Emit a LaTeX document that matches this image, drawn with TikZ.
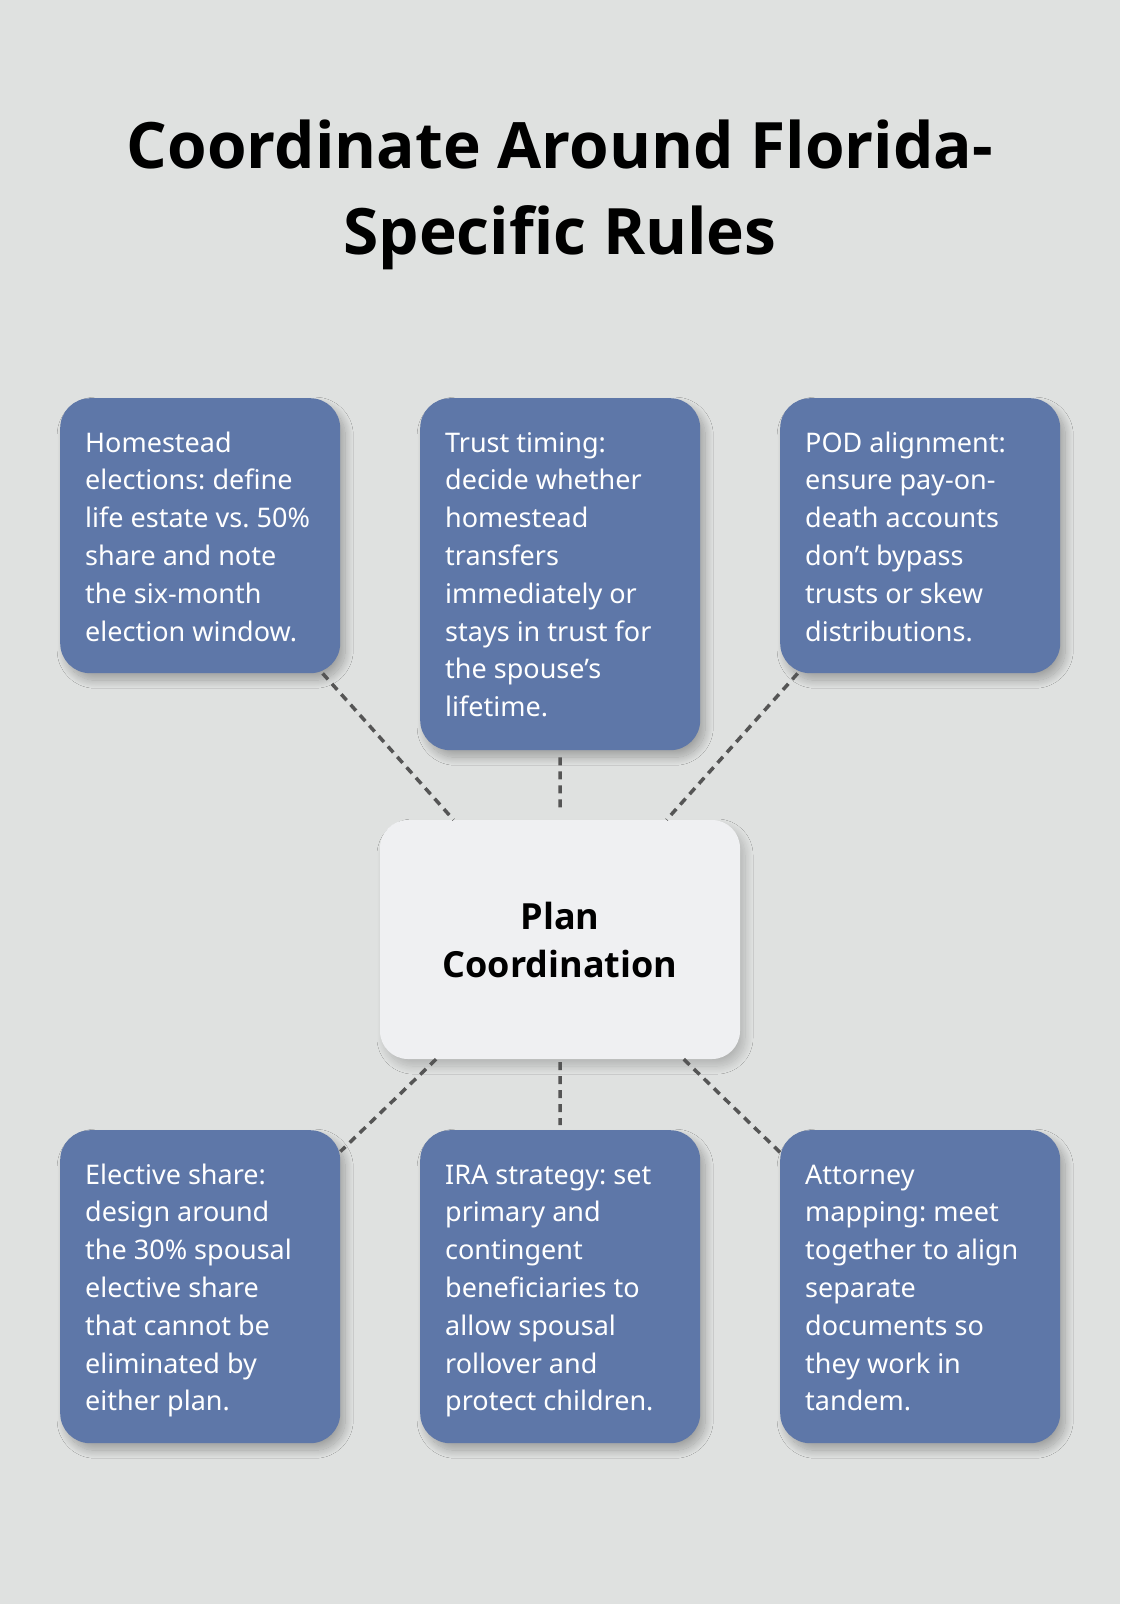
\documentclass[tikz,border=0pt]{standalone}
\usepackage{fontspec}
\setmainfont{Noto Sans}
\newfontfamily\headfont{Open Sans}
\usetikzlibrary{shadows.blur}
\definecolor{bgcol}{HTML}{DFE1E0}
\definecolor{boxblue}{HTML}{5E77A8}
\definecolor{ctrfill}{HTML}{EFF0F2}
\definecolor{dashcol}{HTML}{555555}
\tikzset{
  infobox/.style={rectangle, rounded corners=30pt, fill=boxblue, text=white,
    inner xsep=25pt, inner ysep=27.5pt, anchor=north west,
    font=\fontsize{27}{37.8}\selectfont,
    blur shadow={shadow blur steps=20, shadow xshift=5pt, shadow yshift=-7pt, shadow opacity=28, shadow blur radius=8pt}},
  ctrbox/.style={rectangle, rounded corners=28pt, fill=ctrfill, minimum width=360pt, minimum height=239pt,
    align=center, font=\headfont\bfseries\fontsize{36}{48}\selectfont,
    blur shadow={shadow blur steps=20, shadow xshift=5pt, shadow yshift=-7pt, shadow opacity=20, shadow blur radius=8pt}},
  conn/.style={draw=dashcol, line width=3.5pt, dash pattern=on 8pt off 6pt},
  titletext/.style={align=center, inner sep=0pt, anchor=north, font=\headfont\bfseries\fontsize{64}{86}\selectfont}
}
\newcommand{\boxtext}[2]{\parbox[t][#1][t]{230pt}{\raggedright\frenchspacing\strut #2}}
\begin{document}
\begin{tikzpicture}[x=1pt,y=-1pt]
\fill[bgcol] (0,0) rectangle (1120,1604);
\useasboundingbox (0,0) rectangle (1120,1604);

\node[titletext] (title) at (560,120) {Coordinate Around Florida-\\Specific Rules};

\node[infobox] (b1) at (60,398) {\boxtext{220pt}{Homestead\\ elections: define\\ life estate vs. 50\%\\ share and note\\ the six-month\\ election window.}};
\node[infobox] (b2) at (420,398) {\boxtext{297pt}{Trust timing:\\ decide whether\\ homestead\\ transfers\\ immediately or\\ stays in trust for\\ the spouse\char"0027 s\\ lifetime.}};
\node[infobox] (b3) at (780,398) {\boxtext{220pt}{POD alignment:\\ ensure pay-on-\\ death accounts\\ don’t bypass\\ trusts or skew\\ distributions.}};

\node[ctrbox] (ctr) at (560,939.5) {Plan\\Coordination};

\node[infobox] (b4) at (60,1130) {\boxtext{258pt}{Elective share:\\ design around\\ the 30\% spousal\\ elective share\\ that cannot be\\ eliminated by\\ either plan.}};
\node[infobox] (b5) at (420,1130) {\boxtext{258pt}{IRA strategy: set\\ primary and\\ contingent\\ beneficiaries to\\ allow spousal\\ rollover and\\ protect children.}};
\node[infobox] (b6) at (780,1130) {\boxtext{258pt}{Attorney\\ mapping: meet\\ together to align\\ separate\\ documents so\\ they work in\\ tandem.}};

\draw[conn] (b1) -- (ctr);
\draw[conn, shorten <=7pt, shorten >=7pt] (b2) -- (ctr);
\draw[conn] (b3) -- (ctr);
\draw[conn] (ctr) -- (b4);
\draw[conn, shorten <=3pt, shorten >=5pt] (ctr) -- (b5);
\draw[conn] (ctr) -- (b6);
\end{tikzpicture}
\end{document}
